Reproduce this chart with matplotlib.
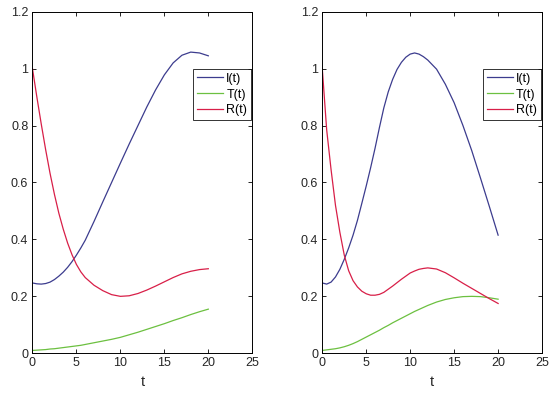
import matplotlib.pyplot as plt
import numpy as np

plt.rcParams['font.family'] = ['Liberation Sans', 'DejaVu Sans']

# Data
# left panel
t_left = [0, 0.5, 1, 1.5, 2, 2.5, 3, 3.5, 4, 4.5, 5, 5.5, 6, 7, 8, 9, 10, 11, 12, 13, 14, 15, 16,
          17, 18, 19, 20]
I_left = [0.247, 0.244, 0.243, 0.245, 0.250, 0.259, 0.271, 0.285, 0.302, 0.322, 0.345, 0.370,
          0.397, 0.463, 0.532, 0.600, 0.668, 0.735, 0.800, 0.865, 0.925, 0.978, 1.020, 1.047,
          1.058, 1.055, 1.045]
T_left = [0.010, 0.011, 0.012, 0.013, 0.015, 0.016, 0.018, 0.020, 0.022, 0.024, 0.026, 0.028,
          0.031, 0.037, 0.043, 0.049, 0.056, 0.065, 0.074, 0.084, 0.094, 0.104, 0.115, 0.125,
          0.136, 0.146, 0.155]
R_left = [1.000, 0.900, 0.805, 0.715, 0.632, 0.558, 0.492, 0.436, 0.387, 0.346, 0.312, 0.286,
          0.266, 0.239, 0.220, 0.206, 0.200, 0.202, 0.210, 0.222, 0.236, 0.251, 0.266, 0.279,
          0.288, 0.294, 0.297]

# right panel
t_right = [0, 0.5, 1, 1.5, 2, 2.5, 3, 3.5, 4, 4.5, 5, 5.5, 6, 6.5, 7, 7.5, 8, 8.5, 9, 9.5, 10,
           10.5, 11, 11.5, 12, 13, 14, 15, 16, 17, 18, 19, 20]
I_right = [0.247, 0.243, 0.250, 0.268, 0.295, 0.330, 0.370, 0.415, 0.467, 0.527, 0.588, 0.652,
           0.720, 0.793, 0.862, 0.918, 0.962, 0.997, 1.022, 1.040, 1.051, 1.055, 1.051, 1.042,
           1.030, 0.998, 0.945, 0.880, 0.800, 0.712, 0.615, 0.516, 0.415]
T_right = [0.010, 0.012, 0.014, 0.016, 0.019, 0.023, 0.028, 0.034, 0.041, 0.049, 0.057, 0.065,
           0.073, 0.081, 0.090, 0.098, 0.107, 0.115, 0.123, 0.131, 0.139, 0.147, 0.154, 0.161,
           0.168, 0.180, 0.189, 0.195, 0.199, 0.200, 0.199, 0.195, 0.190]
R_right = [1.000, 0.785, 0.645, 0.520, 0.425, 0.345, 0.290, 0.255, 0.233, 0.218, 0.209, 0.204,
           0.204, 0.207, 0.214, 0.225, 0.236, 0.248, 0.260, 0.271, 0.282, 0.289, 0.295, 0.298,
           0.300, 0.296, 0.283, 0.265, 0.246, 0.228, 0.210, 0.192, 0.175]

panels = [(t_left, I_left, T_left, R_left), (t_right, I_right, T_right, R_right)]
colors = ['#3c3c8e', '#6cc040', '#d81f48']
names = ['I(t)', 'T(t)', 'R(t)']

xticks = [0, 5, 10, 15, 20, 25]
yticks = [0, 0.2, 0.4, 0.6, 0.8, 1, 1.2]
ylabels = ['0', '0.2', '0.4', '0.6', '0.8', '1', '1.2']

fig = plt.figure(figsize=(5.57, 4.0), dpi=100)
lefts = [0.0583, 0.5786]

for left, (tt, *series) in zip(lefts, panels):
    ax = fig.add_axes([left, 0.1168, 0.3946, 0.854])
    for y, c, n in zip(series, colors, names):
        ax.plot(tt, y, color=c, lw=0.9, label=n)
    ax.set_xlim(0, 25)
    ax.set_ylim(0, 1.2)
    ax.set_xticks(xticks)
    ax.set_xticklabels([str(v) for v in xticks])
    ax.set_yticks(yticks)
    ax.set_yticklabels(ylabels)
    ax.tick_params(direction='in', length=3, width=0.6, top=True, right=True,
                   labelsize=9, labelcolor='#262626', pad=3)
    for s in ax.spines.values():
        s.set_linewidth(0.7)
    ax.set_xlabel('t', fontsize=10.5, color='#262626', labelpad=4)
    leg = ax.legend(loc='upper right', bbox_to_anchor=(0.994, 0.832), fontsize=9,
                    frameon=True, fancybox=False, edgecolor='black', borderpad=0.3,
                    handlelength=2.1, handletextpad=0.25, labelspacing=0.3, borderaxespad=0)
    leg.get_frame().set_linewidth(0.7)

plt.savefig('out.png', dpi=100)
